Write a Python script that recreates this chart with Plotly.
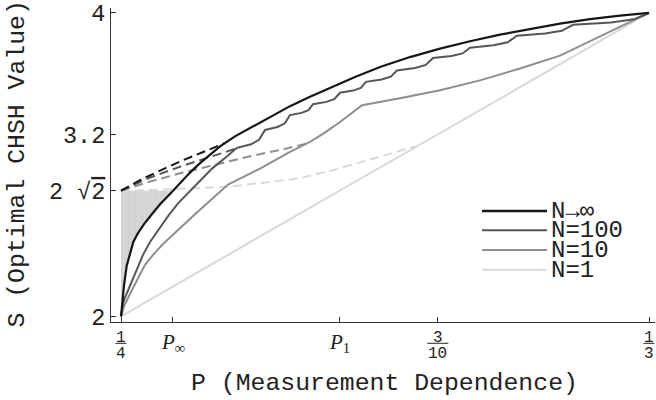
import numpy as np
import plotly.graph_objects as go

# ---------------- data ----------------
# N -> infinity, solid
p_inf = [0.25000, 0.25016, 0.25047, 0.25090, 0.25142, 0.25194, 0.25268, 0.25363, 0.25474,
         0.25616, 0.25773, 0.25931, 0.26089, 0.26247, 0.26405, 0.26563, 0.26799, 0.27036,
         0.27352, 0.27667, 0.27983, 0.28299, 0.28693, 0.29088, 0.29561, 0.30035, 0.30508,
         0.30982, 0.31455, 0.31929, 0.32402, 0.32876, 0.33333]
s_inf = [2.0000, 2.0784, 2.2026, 2.3333, 2.4183, 2.4902, 2.5490, 2.6078, 2.6667,
         2.7386, 2.8072, 2.8791, 2.9477, 3.0098, 3.0686, 3.1209, 3.1863, 3.2418,
         3.3170, 3.3856, 3.4477, 3.5065, 3.5784, 3.6438, 3.7092, 3.7647, 3.8137,
         3.8575, 3.8954, 3.9294, 3.9588, 3.9830, 4.0000]

# N = 100, solid
p_100 = [0.25000, 0.25032, 0.25063, 0.25110, 0.25174, 0.25253, 0.25347, 0.25458, 0.25584,
         0.25742, 0.25900, 0.26057, 0.26247, 0.26436, 0.26626, 0.26831, 0.27052, 0.27178,
         0.27273, 0.27470, 0.27588, 0.27667, 0.27849, 0.27958, 0.28030, 0.28243, 0.28371,
         0.28456, 0.28662, 0.28785, 0.28867, 0.29112, 0.29258, 0.29356, 0.29640, 0.29811,
         0.29924, 0.30216, 0.30391, 0.30508, 0.30879, 0.31102, 0.31250, 0.31692, 0.31957,
         0.32134, 0.32734, 0.33093, 0.33333]
s_100 = [2.0000, 2.0850, 2.1242, 2.1699, 2.2418, 2.3203, 2.4052, 2.4902, 2.5686,
         2.6601, 2.7451, 2.8105, 2.8954, 2.9739, 3.0392, 3.1111, 3.1340, 3.1634,
         3.2288, 3.2484, 3.2725, 3.3268, 3.3412, 3.3595, 3.3987, 3.4137, 3.4327,
         3.4739, 3.4882, 3.5065, 3.5458, 3.5608, 3.5797, 3.6209, 3.6373, 3.6575,
         3.7026, 3.7163, 3.7333, 3.7712, 3.7869, 3.8065, 3.8497, 3.8641, 3.8824,
         3.9216, 3.9379, 3.9582, 4.0000]

# N = 10, solid
p_10 = [0.25000, 0.25047, 0.25169, 0.25268, 0.25379, 0.25505, 0.25663, 0.26168, 0.26689,
        0.27194, 0.27667, 0.27983, 0.28188, 0.28456, 0.28804, 0.29403, 0.30035, 0.30666,
        0.31297, 0.31929, 0.32560, 0.33033, 0.33333]
s_10 = [2.0000, 2.0654, 2.1699, 2.2549, 2.3399, 2.4052, 2.4771, 2.6732, 2.8693,
        2.9739, 3.0850, 3.1503, 3.2026, 3.2810, 3.3922, 3.4379, 3.4902, 3.5556,
        3.6340, 3.7190, 3.8431, 3.9412, 4.0000]

# N = 1, solid
p_1 = [0.25, 1 / 3]
s_1 = [2.0, 4.0]

# dashed branches starting from 2*sqrt(2)
p_inf_d = [0.25, 0.25300, 0.25616, 0.25979, 0.26326, 0.26641]
s_inf_d = [2.8284, 2.8987, 2.9608, 3.0294, 3.0882, 3.1425]
p_100_d = [0.25, 0.25458, 0.25979, 0.26484, 0.26878]
s_100_d = [2.8284, 2.9150, 2.9935, 3.0588, 3.1144]
p_10_d = [0.25, 0.25458, 0.25979, 0.26515, 0.27036, 0.27557, 0.27951]
s_10_d = [2.8284, 2.8889, 2.9477, 3.0033, 3.0556, 3.1013, 3.1405]
p_1_d = [0.25, 0.25616, 0.26247, 0.26720, 0.27352, 0.27825, 0.28346, 0.28883, 0.29324, 0.29688]
s_1_d = [2.8284, 2.8346, 2.8464, 2.8562, 2.8856, 2.9105, 2.9641, 3.0294, 3.0784, 3.1250]

# ticks
P_INF = 0.2582
P_ONE = 0.2845
x_tickvals = [0.25, P_INF, P_ONE, 0.3, 1 / 3]
SQ8 = 2 * np.sqrt(2)
y_tickvals = [2, SQ8, 3.2, 4]
y_ticktext = ["2", "2 \u221a<span style=\"text-decoration:overline\">2</span>", "3.2", "4"]

legend_names = ["N\u2192\u221e", "N=100", "N=10", "N=1"]
colors = ["#161616", "#565656", "#8e8e8e", "#d9d9d9"]

# ---------------- figure ----------------
XR = [0.24842, 0.33428]
YR = [1.9627, 4.0327]
MONO = "Liberation Mono, Courier New, monospace"
SERIF = "Liberation Serif, Times New Roman, serif"

fig = go.Figure()

# shaded region: left of the N->inf curve, below 2*sqrt(2)
fill_x = [p for p, s in zip(p_inf, s_inf) if s < SQ8]
fill_y = [s for s in s_inf if s < SQ8]
cross = float(np.interp(SQ8, s_inf, p_inf))
fill_x += [cross, 0.25]
fill_y += [SQ8, SQ8]
fig.add_trace(go.Scatter(x=fill_x, y=fill_y, mode="lines", fill="toself",
                         fillcolor="#d5d5d5", line=dict(width=0),
                         fillpattern=dict(shape="|", size=7, solidity=0.08,
                                          fgcolor="#c2c2c2", bgcolor="#d5d5d5"),
                         hoverinfo="skip"))

dash = "9px,5px"
series = [
    (p_1, s_1, p_1_d, s_1_d, colors[3]),
    (p_10, s_10, p_10_d, s_10_d, colors[2]),
    (p_100, s_100, p_100_d, s_100_d, colors[1]),
    (p_inf, s_inf, p_inf_d, s_inf_d, colors[0]),
]
for ps, ss, pd_, sd_, c in series:
    fig.add_trace(go.Scatter(x=pd_, y=sd_, mode="lines",
                             line=dict(color=c, width=2, dash=dash)))
    fig.add_trace(go.Scatter(x=ps, y=ss, mode="lines",
                             line=dict(color=c, width=2.2 if c == colors[0] else 2)))

axis_common = dict(showline=True, linecolor="#333333", linewidth=1, ticks="inside",
                   ticklen=5, tickcolor="#333333", showgrid=False, zeroline=False)
fig.update_xaxes(range=XR, tickvals=x_tickvals, showticklabels=False, **axis_common)
fig.update_yaxes(range=YR, tickvals=y_tickvals, ticktext=y_ticktext,
                 ticklabeloverflow="allow",
                 tickfont=dict(family=MONO, size=23.5, color="#222222"), **axis_common)


def xp(v):
    return (v - XR[0]) / (XR[1] - XR[0])


annotations = []
shapes = []
# fraction tick labels
fracs = [(0.25, "1", "4"), (0.3, "3", "10"), (1 / 3, "1", "3")]
for v, num, den in fracs:
    annotations.append(dict(x=v, xref="x", y=-0.0498, yref="paper", text=num,
                            showarrow=False, xanchor="center", yanchor="middle",
                            font=dict(family=MONO, size=16, color="#222222")))
    annotations.append(dict(x=v, xref="x", y=-0.1009, yref="paper", text=den,
                            showarrow=False, xanchor="center", yanchor="middle",
                            font=dict(family=MONO, size=16, color="#222222")))
    half = (5.5 if len(den) == 1 else 10.5) / 544
    shapes.append(dict(type="line", xref="paper", yref="paper",
                       x0=xp(v) - half, x1=xp(v) + half, y0=-0.0678, y1=-0.0678,
                       line=dict(color="#222222", width=1)))
for v, sub in [(P_INF, "\u221e"), (P_ONE, "1")]:
    annotations.append(dict(x=v, xref="x", y=-0.066, yref="paper",
                            text="<i>P</i><sub>" + sub + "</sub>",
                            showarrow=False, xanchor="center", yanchor="middle",
                            font=dict(family=SERIF, size=21, color="#222222")))

# axis titles
annotations.append(dict(x=0.502, y=-0.1956, xref="paper", yref="paper",
                        text="P (Measurement Dependence)", showarrow=False,
                        xanchor="center", yanchor="middle",
                        font=dict(family=MONO, size=24.8, color="#222222")))
annotations.append(dict(x=-0.1728, y=0.5047, xref="paper", yref="paper",
                        text="S (Optimal CHSH Value)", showarrow=False, textangle=-90,
                        xanchor="center", yanchor="middle",
                        font=dict(family=MONO, size=24.8, color="#222222")))

# legend (drawn manually)
leg_y = [0.3533, 0.2924, 0.2293, 0.1662]
for name, c, yy in zip(legend_names, colors, leg_y):
    shapes.append(dict(type="line", xref="paper", yref="paper", x0=0.6820, x1=0.8015,
                       y0=yy, y1=yy, line=dict(color=c, width=2.5 if c == colors[0] else 2)))
    annotations.append(dict(x=0.8051, y=yy, xref="paper", yref="paper", text=name,
                            showarrow=False, xanchor="left", yanchor="middle", height=18,
                            font=dict(family=MONO, size=24, color="#222222")))

fig.update_layout(width=656, height=400, margin=dict(l=111, r=1, t=5, b=78),
                  paper_bgcolor="white", plot_bgcolor="white", showlegend=False,
                  annotations=annotations, shapes=shapes)

fig.write_html("out.html", config={"displayModeBar": False},
               post_script="document.body.style.margin='0';")
